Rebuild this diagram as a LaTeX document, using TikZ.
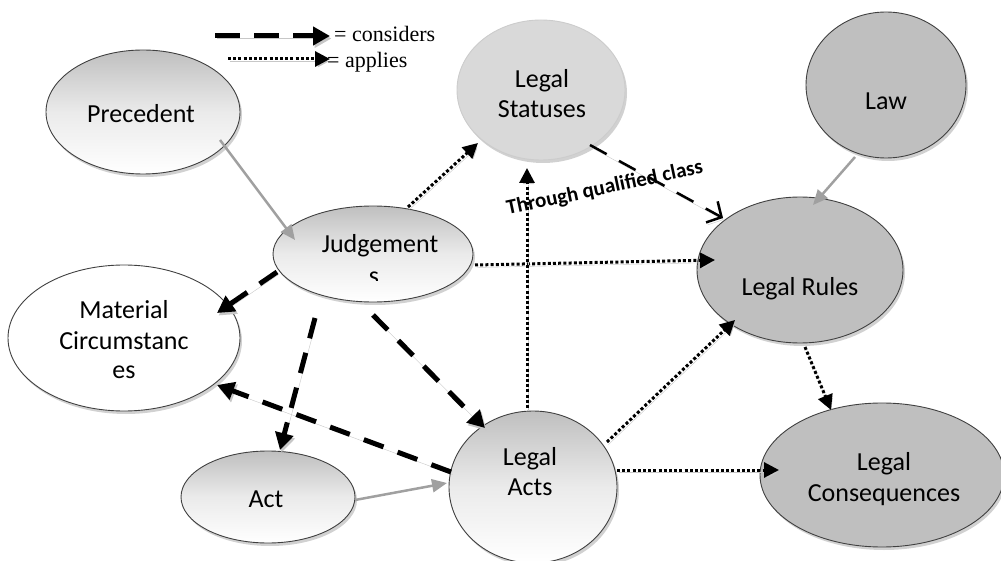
\documentclass[tikz,border=0pt]{standalone}
\usepackage{fontspec}
\setmainfont{Carlito}
\newfontfamily\legendfont{Liberation Serif}
\usetikzlibrary{shapes.geometric,arrows.meta,shadows,calc}
\definecolor{midgray}{RGB}{191,191,191}
\definecolor{lightgray2}{RGB}{217,217,217}
\definecolor{edgegray}{RGB}{64,64,64}
\definecolor{linegray}{RGB}{160,160,160}
\begin{document}
\begin{tikzpicture}[x=1pt,y=-1pt,
  ell/.style={ellipse, inner sep=0pt, draw=edgegray, line width=0.9pt,
    drop shadow={shadow xshift=2pt, shadow yshift=-3pt, opacity=0.3, fill=black!60}},
  gradell/.style={ell, top color=midgray, bottom color=white, middle color=black!8},
  darkell/.style={ell, fill=midgray},
  whiteell/.style={ell, fill=white},
  lightell/.style={ell, fill=lightgray2, draw=black!20},
  txt/.style={font=\fontsize{26}{30}\selectfont, anchor=base, inner sep=0pt},
  lineshadow/.style={preaction={draw=black!22, transform canvas={shift={(1.5pt,-2.5pt)}}}},
  grayarrow/.style={draw=linegray, line width=2.5pt, -{Triangle[length=15pt,width=13pt]}},
  considers/.style={lineshadow, draw=black, line width=5pt, dash pattern=on 21pt off 15pt,
    -{Triangle[length=17pt,width=18pt]}},
  applies/.style={lineshadow, draw=black, line width=3pt, dash pattern=on 3pt off 2.2pt,
    -{Triangle[length=15pt,width=15pt]}},
  qualified/.style={lineshadow, draw=black, line width=2.5pt, dash pattern=on 19pt off 14pt,
    -{Straight Barb[length=11pt,width=24pt,line width=2.5pt]}},
]
\useasboundingbox (0,0) rectangle (1001,561);

% ellipses
\node[gradell, minimum width=194pt, minimum height=124pt] (Prec) at (143,112) {};
\node[gradell, minimum width=200pt, minimum height=96pt] (Judg) at (373,254) {};
\node[whiteell, minimum width=232pt, minimum height=146pt] (MC) at (124,338) {};
\node[gradell, minimum width=174pt, minimum height=92pt] (Act) at (268,497) {};
\node[gradell, minimum width=168pt, minimum height=152pt] (LActs) at (533,487) {};
\node[lightell, minimum width=168pt, minimum height=140pt] (LS) at (541,90) {};
\node[darkell, minimum width=160pt, minimum height=146pt] (Law) at (886,85) {};
\node[darkell, minimum width=206pt, minimum height=146pt] (LR) at (800,270) {};
\node[darkell, minimum width=244pt, minimum height=144pt] (LC) at (882,475) {};

% texts
\node[txt] (tPrec) at (141,123) {Precedent};
\node[txt] (tJudg) at (380,253) {Judgement};
\begin{scope}
  \clip (330,262) rectangle (430,281);
  \node[txt] (tJudgS) at (374,284) {s};
\end{scope}
\node[txt] (tMC1) at (124,318) {Material};
\node[txt] (tMC2) at (124,349) {Circumstanc};
\node[txt] (tMC3) at (124,378) {es};
\node[txt] (tAct) at (266,507) {Act};
\node[txt] (tLA1) at (530,465) {Legal};
\node[txt] (tLA2) at (530,495) {Acts};
\node[txt] (tLS1) at (542,88) {Legal};
\node[txt] (tLS2) at (542,118) {Statuses};
\node[txt] (tLaw) at (886,110) {Law};
\node[txt] (tLR) at (800,295) {Legal Rules};
\node[txt] (tLC1) at (884,470) {Legal};
\node[txt] (tLC2) at (884,501) {Consequences};

% gray solid connectors
\draw[grayarrow] ($(Prec.center)+(77,28)$) -- ($(Judg.center)+(-78,-14)$);
\draw[grayarrow] ($(Law.center)+(-31,72)$) -- ($(LR.center)+(13,-65)$);
\draw[grayarrow] ($(Act.center)+(87,3)$) -- ($(LActs.center)+(-86,-4)$);

% considers (dashed)
\draw[considers] ($(Judg.center)+(-96,18)$) -- ($(MC.center)+(93,-25)$);
\draw[considers] ($(Judg.center)+(-58,64)$) -- ($(Act.center)+(12,-47)$);
\draw[considers] ($(Judg.center)+(0,61)$) -- ($(LActs.center)+(-48,-59)$);
\draw[considers] ($(LActs.center)+(-82,-15)$) -- ($(MC.center)+(93,47)$);

% through qualified class
\draw[qualified] ($(LS.center)+(49,55)$) -- ($(LR.center)+(-77,-52)$);
\node[font=\bfseries\fontsize{21}{24}\selectfont, anchor=base, inner sep=0pt, rotate=12]
  (tq) at (606,194) {Through qualified class};

% applies (dotted)
\draw[applies] ($(Judg.center)+(35,-47)$) -- ($(LS.center)+(-63,53)$);
\draw[applies] ($(Judg.center)+(102,11)$) -- ($(LR.center)+(-85,-10)$);
\draw[applies] ($(LActs.center)+(-6,-79)$) -- ($(LS.center)+(-14,78)$);
\draw[applies] ($(LActs.center)+(74,-45)$) -- ($(LR.center)+(-65,50)$);
\draw[applies] ($(LActs.center)+(84,-17)$) -- ($(LC.center)+(-103,-5)$);
\draw[applies] ($(LR.center)+(5,77)$) -- ($(LC.center)+(-51,-65)$);

% legend
\coordinate (k1s) at (215,36);
\coordinate (k1e) at (330,36);
\coordinate (k2s) at (228,59);
\coordinate (k2e) at (330,59);
\draw[considers, dash pattern=on 25pt off 14pt] (k1s) -- (k1e);
\draw[applies] (k2s) -- (k2e);
\node[font=\legendfont\fontsize{22}{24}\selectfont, anchor=base west, inner sep=0pt]
  (lk1) at (334,42) {= considers};
\node[font=\legendfont\fontsize{22}{24}\selectfont, anchor=base west, inner sep=0pt]
  (lk2) at (327,68) {= applies};
\end{tikzpicture}
\end{document}
